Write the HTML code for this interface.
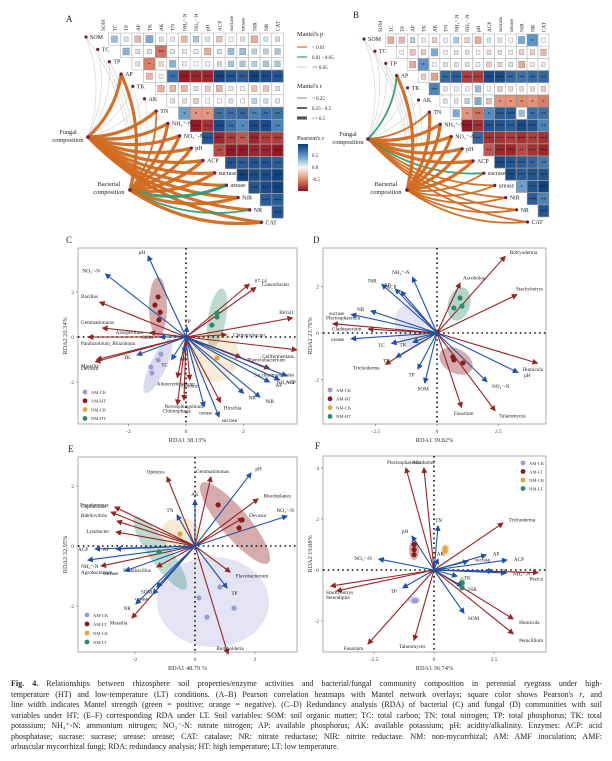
<!DOCTYPE html>
<html><head><meta charset="utf-8">
<style>
html,body{margin:0;padding:0;background:#fff;}
#wrap{position:relative;width:612px;height:761px;overflow:hidden;}
svg{position:absolute;left:0;top:0;}
#cap{position:absolute;left:11px;top:679px;width:591px;font-family:"Liberation Serif",serif;font-size:8px;line-height:10.5px;color:#222;}
#cap div{text-align:justify;text-align-last:justify;height:10.5px;overflow:hidden;}
#cap div.last{text-align-last:left;}
text{font-family:"Liberation Serif",serif;}
</style></head>
<body>
<div id="wrap">
<svg id="fig" width="612" height="761" viewBox="0 0 612 761" xmlns="http://www.w3.org/2000/svg">
<defs>
<marker id="ab" markerWidth="6" markerHeight="6" refX="5" refY="3" orient="auto" markerUnits="userSpaceOnUse"><path d="M0,0 L6,3 L0,6 z" fill="#1f4fa8"/></marker>
<marker id="ar" markerWidth="6" markerHeight="6" refX="5" refY="3" orient="auto" markerUnits="userSpaceOnUse"><path d="M0,0 L6,3 L0,6 z" fill="#962325"/></marker>
<linearGradient id="pg" x1="0" y1="0" x2="0" y2="1">
<stop offset="0" stop-color="#0b3a78"/><stop offset="0.25" stop-color="#5b95c8"/><stop offset="0.5" stop-color="#f7f7f7"/><stop offset="0.75" stop-color="#e08a6e"/><stop offset="1" stop-color="#8e0c1e"/></linearGradient>
</defs>
<g id="layer"></g>
</svg>
<div id="cap">
<div><b>Fig. 4.</b> Relationships between rhizosphere soil properties/enzyme activities and bacterial/fungal community composition in perennial ryegrass under high-</div>
<div>temperature (HT) and low-temperature (LT) conditions. (A–B) Pearson correlation heatmaps with Mantel network overlays; square color shows Pearson's <i>r</i>, and</div>
<div>line width indicates Mantel strength (green = positive; orange = negative). (C–D) Redundancy analysis (RDA) of bacterial (C) and fungal (D) communities with soil</div>
<div>variables under HT; (E–F) corresponding RDA under LT. Soil variables: SOM: soil organic matter; TC: total carbon; TN: total nitrogen; TP: total phosphorus; TK: total</div>
<div>potassium; NH₄⁺-N: ammonium nitrogen; NO₃⁻-N: nitrate nitrogen; AP: available phosphorus; AK: available potassium; pH: acidity/alkalinity. Enzymes: ACP: acid</div>
<div>phosphatase; sucrase: sucrase; urease: urease; CAT: catalase; NR: nitrate reductase; NIR: nitrite reductase. NM: non-mycorrhizal; AM: AMF inoculation; AMF:</div>
<div class="last">arbuscular mycorrhizal fungi; RDA: redundancy analysis; HT: high temperature; LT: low temperature.</div>
</div>
</div>
<script>
// ---------- Heatmap data ----------
const vars = ["SOM","TC","TP","AP","TK","AK","TN","NH₄⁺-N","NO₃⁻-N","pH","ACP","sucrase","urease","NiR","NR","CAT"];
const corrA = [
 [.3,.1,-.3,.4,.1,.05,-.3,.25,.1,-.25,0,.1,-.35,.1,.15],
 [.35,.1,.1,-.6,.05,.05,.05,-.35,.1,.3,.3,.2,.2,.25],
 [.1,-.55,-.15,.35,.05,0,0,.15,.25,.25,.2,.25,.25],
 [-.3,0,.7,-.95,-.9,-.9,.95,.85,.8,.95,.9,.85],
 [-.35,-.3,-.3,.1,-.2,-.3,.05,0,-.25,-.25,.1],
 [.1,.1,-.2,0,0,.1,0,.2,.15,.1],
 [.45,-.45,-.45,.7,.7,.75,.6,.7,.7],
 [-.95,-.85,.9,.7,.55,.9,.9,.6],
 [.85,-.9,-.8,-.7,-.9,-.8,-.8],
 [-.75,-.95,-.95,-.9,-.9,-.95],
 [.85,.8,.85,.85,.8],
 [.95,.9,.9,.95],
 [.85,.9,.95],
 [.8,.8],
 [.85]
];
const corrB = [
 [-.35,-.3,.2,.05,-.2,.05,.25,-.2,-.35,.1,.1,0,.4,.5,0],
 [0,-.25,-.2,.4,0,.1,.1,0,-.15,.1,.05,-.2,-.2,-.3],
 [-.35,.5,0,.1,.1,.1,0,-.2,-.15,.1,-.35,.05,.05],
 [-.2,-.4,.75,.8,-.8,-.8,.9,.9,.75,.7,.75,.75],
 [.6,-.1,.05,0,.3,0,-.2,-.15,-.15,-.15,-.2],
 [.1,.1,.2,.4,-.25,-.45,-.45,-.5,-.45,-.55],
 [.4,-.45,-.6,.55,.8,.8,.3,.7,.7],
 [-.95,-.85,.85,.85,.8,.9,.85,.6],
 [.75,-.85,-.85,-.8,-.85,-.8,-.85],
 [-.7,-.9,-.9,-.75,-.85,-.9],
 [.9,.85,.8,.75,.65],
 [.9,.8,.85,.85],
 [.45,.85,.95],
 [.8,.6],
 [.85]
];
const mantelA_fung_r = [.1,.1,.1,.6,.1,.1,.6,.6,.6,.6,.6,.6,.6,.6,.5,.5];
const mantelA_fung_p = [2,2,2,0,2,2,0,0,0,0,0,0,0,0,0,0];
const mantelA_bact_r = [.1,.1,.1,.6,.1,.1,.4,.6,.6,.6,.6,.6,.6,.6,.3,.6];
const mantelA_bact_p = [2,2,2,0,2,2,0,0,0,0,0,0,1,0,1,0];
const mantelB_fung_r = [.1,.1,.1,.3,.1,.1,.4,.6,.6,.6,.5,.3,.3,.3,.3,.3];
const mantelB_fung_p = [2,2,2,1,2,2,0,0,0,0,0,1,0,0,0,0];
const mantelB_bact_r = [.1,.1,.1,.5,.1,.1,.5,.6,.6,.6,.5,.4,.4,.4,.4,.4];
const mantelB_bact_p = [2,2,2,0,2,2,0,0,0,0,0,0,0,0,0,0];

// ---------- RDA data ----------
const cEnvNames = ["pH","NO₃⁻-N","TK","TC","AK","TP","SOM","NH₄⁺-N","ACP","AP","NR","NiR","urease","sucrase"];
const cEnvX = [-1.32,-2.8,-1.7,-0.5,-0.07,0.03,-0.9,3.5,3.25,2.9,2.0,2.57,0.63,1.15];
const cEnvY = [3.6,2.8,-0.8,-1.0,-0.7,0.45,0,-1.73,-1.9,-2.0,-2.5,-2.67,-3.1,-3.55];
const cSpNames = ["Bacillus","Gemmatimonas","Parahizobium_Rhizobium","Devosia","Massilia","Azospirillum","67-14","Conexibacter","Blrii41","Chthoniobacter","Cellfermentans","Phenylobacterium","Saccharimonadales","Hirschia","Chitinophaga","Novosphingobium","Opitutus","Altererythrobacter"];
const cSpX = [-3.0,-2.9,-3.4,-3.15,-3.1,-1.25,2.2,2.43,3.7,1.4,3.85,1.9,2.9,1.2,-0.3,-0.07,0.13,-0.3];
const cSpY = [1.55,0.4,0,-1.1,-1.0,0.2,2.35,2.2,0.85,0.1,-0.57,-0.9,-1.4,-2.9,-3.0,-2.8,-1.9,-1.8];
const cPtGroup = [1,1,1,1,3,3,3,0,0,0,0,2];
const cPtX = [-0.97,-1.08,-0.9,-0.94,1.08,0.9,1.08,-0.87,-0.97,-1.22,-1.18,1.08];
const cPtY = [1.78,1.42,1.1,0.76,1.07,0.53,0.89,-0.76,-1.02,-1.33,-1.6,-0.93];

const dEnvNames = ["NH₄⁺-N","NiR","AP","ACP","NR","sucrase","urease","TC","TK","TN","TP","SOM","NO₃⁻-N","pH"];
const dEnvX = [-1.0,-2.25,-1.7,-1.47,-2.7,-3.5,-3.5,-1.85,-0.98,-1.67,-0.78,-0.5,2.04,3.3];
const dEnvY = [2.4,2.1,1.9,1.8,0.95,0.8,-0.25,-0.45,-0.4,-1.05,-1.55,-2.15,-2.1,-1.7];
const dSpNames = ["Botryoderma","Ascobolus","Stachybotrys","Humicola","Talaromyces","Fusarium","Plectosphaerella","Cladosporium","Trichoderma"];
const dSpX = [2.78,0.94,3.26,4.1,2.37,1.0,-4.25,-2.8,-2.1];
const dSpY = [3.3,2.15,1.65,-1.3,-3.35,-3.2,0.4,0.17,-1.35];
const dPtGroup = [3,3,3,1,1,1];
const dPtX = [0.94,0.69,1.02,0.69,0.65,1.06];
const dPtY = [1.51,1.08,1.16,-1.16,-1.03,-1.29];

const eEnvNames = ["pH","NO₃⁻-N","AK","TN","ACP","AP","NH₄⁺-N","sucrase","SOM","NR","urease","TP"];
const eEnvX = [1.87,3.07,0,-0.6,-3.33,-2.63,-3.57,-2.33,-1.27,-1.97,-1.4,1.07];
const eEnvY = [2.43,1.0,1.53,1.03,-0.1,-0.1,-0.47,-0.83,-1.37,-1.93,-1.6,-1.4];
const eSpNames = ["Opitutus","Gemmatimonas","Rhodoplanes","Devosia","Pseudomonas","Cupriavidus","Bdellovibrio","Lysobacter","Agrobacterium","Paenibacillus","Massilia","Burkholderia","Flavobacterium"];
const eSpX = [-0.93,0.53,2.1,1.6,-2.67,-2.8,-2.6,-2.63,-3.13,-1.27,-2.1,1.1,1.17];
const eSpY = [2.3,2.3,1.57,0.93,1.3,1.13,0.83,0.47,-0.67,-0.7,-2.4,-3.6,-0.87];
const ePtGroup = [1,1,1,0,0,0,0,2,3];
const ePtX = [0.77,1.47,1.57,0.83,0.13,0.4,1.3,-0.5,-1.2];
const ePtY = [1.37,0.6,0.87,-1.37,-1.73,-2.37,-2.07,0.4,-0.2];

const fEnvNames = ["TN","pH","NO₃⁻-N","AK","AP","ACP","NR","NH₄⁺-N","TK","NiR","SOM","TP","sucrase"];
const fEnvX = [0.17,-0.92,-2.3,0.17,2.17,3.04,2.46,3.0,0.96,1.17,1.25,-1.3,1.42];
const fEnvY = [1.73,1.33,0.43,0.43,0.59,0.39,-0.04,-0.12,-0.24,-0.63,-1.69,-0.7,0.35];
const fSpNames = ["Plectosphaerella","Ascobolus","Trichoderma","Pezica","Stachybotrys","Serendipita","Fusarium","Talaromyces","Humicola","Penicillium"];
const fSpX = [-1.17,-0.42,2.87,4.33,-4.3,-4.05,-2.75,-0.83,3.3,3.3];
const fSpY = [4.0,4.0,1.84,-0.1,-0.63,-0.82,-2.9,-2.75,-1.92,-2.5];
const fPtGroup = [1,1,1,2,2,3,3,0,0];
const fPtX = [-0.83,-0.83,-0.83,0.46,0.46,1.17,1.17,-0.83,-0.75];
const fPtY = [1.0,0.8,0.6,0.85,0.75,-0.5,-0.7,-1.2,-1.2];

const groupColors = ["#9b9bd6","#8b1a1a","#e0a43c","#2e8b66"];

// ---------- helpers ----------
const NS = "http://www.w3.org/2000/svg";
const layer = document.getElementById("layer");
function mk(tag, attrs, parent){
  const e = document.createElementNS(NS, tag);
  for (const k in attrs) e.setAttribute(k, attrs[k]);
  (parent||layer).appendChild(e);
  return e;
}
function txt(x,y,s,size,opts,parent){
  const t = mk("text", Object.assign({x:x,y:y,"font-size":size,fill:"#222"}, opts||{}), parent);
  t.textContent = s;
  return t;
}
function lerp(a,b,t){return a+(b-a)*t;}
function hex2(c){return [parseInt(c.slice(1,3),16),parseInt(c.slice(3,5),16),parseInt(c.slice(5,7),16)];}
function corrColor(r){
  const stops = [[-1,"#8e0c1e"],[-0.5,"#e08a6e"],[0,"#f7f7f7"],[0.5,"#5b95c8"],[1,"#0b3a78"]];
  for (let i=0;i<stops.length-1;i++){
    if (r<=stops[i+1][0]){
      const t=(r-stops[i][0])/(stops[i+1][0]-stops[i][0]);
      const a=hex2(stops[i][1]), b=hex2(stops[i+1][1]);
      return "rgb("+Math.round(lerp(a[0],b[0],t))+","+Math.round(lerp(a[1],b[1],t))+","+Math.round(lerp(a[2],b[2],t))+")";
    }
  }
  return stops[4][1];
}

// ---------- Heatmap panel ----------
function heatPanel(cfg){
  const g = mk("g",{});
  
  
  const cw=cfg.cw, ch=cfg.ch;
  for (let k=0;k<16;k++){
    const cx = cfg.x0 + k*cw + cw/2;
    const t = txt(0,0,vars[k],5.2,{transform:"translate("+(cx+2)+","+(cfg.y0-2)+") rotate(-90)"},g);
    
    
  }
  function link(node, idx, r, p){
    const dx = cfg.dx0 + idx*cfg.dstep, dy = cfg.dy0 + idx*ch;
    const col = p===0 ? "#d2691e" : (p===1 ? "#2a9d72" : "#d4d4d4");
    const w = r<0.25 ? 0.7 : (r<0.5 ? 1.8 : 3.2);
    const mx=(node[0]+dx)/2, my=(node[1]+dy)/2;
    const vx=dx-node[0], vy=dy-node[1];
    const cx = mx - vy*0.18, cy = my + vx*0.18;
    const pth = mk("path",{d:"M"+node[0]+","+node[1]+" Q"+cx+","+cy+" "+dx+","+dy,fill:"none",stroke:col,"stroke-width":w,"stroke-linecap":"round",opacity:0.95},g);
    
    
  }
  for (let i=0;i<16;i++) if (cfg.fp[i]===2) link(cfg.fn,i,cfg.fr[i],cfg.fp[i]);
  for (let i=0;i<16;i++) if (cfg.bp[i]===2) link(cfg.bn,i,cfg.br[i],cfg.bp[i]);
  for (let i=0;i<16;i++) if (cfg.fp[i]!==2) link(cfg.fn,i,cfg.fr[i],cfg.fp[i]);
  for (let i=0;i<16;i++) if (cfg.bp[i]!==2) link(cfg.bn,i,cfg.br[i],cfg.bp[i]);
  for (let r=0;r<15;r++){
    for (let j=0;j<cfg.data[r].length;j++){
      const k=r+1+j, v=cfg.data[r][j];
      const x=cfg.x0+k*cw, y=cfg.y0+r*ch;
      const bg = mk("rect",{x:x,y:y,width:cw,height:ch,fill:"#fff",stroke:"#aaa","stroke-width":0.5},g);
      
      
      const a=Math.abs(v);
      const s = a>=0.45 ? 0.96 : Math.max(0.35, Math.sqrt(a)*0.95);
      const sq = mk("rect",{x:x+cw*(1-s)/2,y:y+ch*(1-s)/2,width:cw*s,height:ch*s,fill:corrColor(v),stroke:"#888","stroke-width":0.4},g);
      
      
      const st = a>=0.8?"***":(a>=0.6?"**":(a>=0.45?"*":""));
      if (st){ const t=txt(x+cw/2,y+ch/2+2.2,st,5,{"text-anchor":"middle",fill:"#1a1a1a"},g);
        
         }
    }
  }
  for (let i=0;i<16;i++){
    const dx = cfg.dx0 + i*cfg.dstep, dy = cfg.dy0 + i*ch;
    const c = mk("circle",{cx:dx,cy:dy,r:1.6,fill:"#6b1f4a"},g);
    
    
    const t = txt(dx+4,dy+2,vars[i],6,{},g);
    
    
  }
  for (const nd of [[cfg.fn,"Fungal","composition"],[cfg.bn,"Bacterial","composition"]]){
    const c = mk("circle",{cx:nd[0][0],cy:nd[0][1],r:1.8,fill:"#6b1f4a"},g);
    
    
    const isF = nd[1]==="Fungal";
    const lx = isF ? nd[0][0]-2 : nd[0][0]-3, ly = isF ? nd[0][1]-3 : nd[0][1]-4;
    const t1 = txt(lx-18,ly,nd[1],6.3,{"text-anchor":"middle"},g);
    
    
    const t2 = txt(lx-18,ly+8,nd[2],6.3,{"text-anchor":"middle"},g);
    
    
  }
}
heatPanel({name:"panel-a-heatmap",x0:97,y0:33,cw:11.65,ch:12.35,data:corrA,dx0:86,dy0:37,dstep:11.7,
  fn:[88,137],bn:[130,190],fr:mantelA_fung_r,fp:mantelA_fung_p,br:mantelA_bact_r,bp:mantelA_bact_p});
heatPanel({name:"panel-b-heatmap",x0:374.5,y0:34,cw:10.9,ch:12.2,data:corrB,dx0:364,dy0:39,dstep:10.9,
  fn:[368,139],bn:[407,190],fr:mantelB_fung_r,fp:mantelB_fung_p,br:mantelB_bact_r,bp:mantelB_bact_p});

(function(){
  const g = mk("g",{});
  
  
  txt(297,36,"Mantel's p",6.3,{},g);
  const ps=[["#d2691e","< 0.01"],["#2a9d72","0.01 - 0.05"],["#d4d4d4",">= 0.05"]];
  ps.forEach((p,i)=>{ mk("line",{x1:297,x2:307,y1:47+i*10,y2:47+i*10,stroke:p[0],"stroke-width":1.2},g); txt(312,49+i*10,p[1],5,{},g);});
  txt(297,88,"Mantel's r",6.3,{},g);
  const rs=[[0.7,"< 0.25"],[1.8,"0.25 - 0.5"],[3.2,">= 0.5"]];
  rs.forEach((p,i)=>{ mk("line",{x1:297,x2:307,y1:98+i*10,y2:98+i*10,stroke:"#555","stroke-width":p[0]},g); txt(312,100+i*10,p[1],5,{},g);});
  txt(297,140,"Pearson's r",6.3,{},g);
  mk("rect",{x:298,y:144,width:10,height:47,fill:"url(#pg)"},g);
  txt(312,157,"0.5",5,{},g); txt(312,169,"0.0",5,{},g); txt(312,181,"-0.5",5,{},g);
})();

// ---------- RDA panel ----------
function rda(cfg){
  const g = mk("g",{});
  
  
  const X = v => cfg.ox + v*cfg.sx;
  const Y = v => cfg.oy - v*cfg.sy;
  const b = cfg.box;
  const fr = mk("rect",{x:b[0],y:b[1],width:b[2]-b[0],height:b[3]-b[1],fill:"#fff",stroke:"#999","stroke-width":0.8},g);
  
  
  cfg.ell.forEach(e=>{
    const el = mk("ellipse",{cx:e[0],cy:e[1],rx:e[2],ry:e[3],fill:groupColors[e[5]],opacity:(e[6]||0.35)*0.8,transform:"rotate("+e[4]+" "+e[0]+" "+e[1]+")"},g);
    
    
  });
  mk("line",{x1:b[0],x2:b[2],y1:Y(0),y2:Y(0),stroke:"#111","stroke-width":1.6,"stroke-dasharray":"1.6 3.2"},g);
  mk("line",{x1:X(0),x2:X(0),y1:b[1],y2:b[3],stroke:"#111","stroke-width":1.6,"stroke-dasharray":"1.6 3.2"},g);
  function arrows(names,xs,ys,color,marker,nm){
    for (let i=0;i<names.length;i++){
      const x=X(xs[i]), y=Y(ys[i]);
      const ln = mk("line",{x1:X(0),y1:Y(0),x2:x,y2:y,stroke:color,"stroke-width":1.1,"marker-end":"url(#"+marker+")"},g);
      
      
      const dx=x-X(0), dy=y-Y(0), L=Math.hypot(dx,dy)||1;
      let lx=x+dx/L*7, ly=y+dy/L*6+2;
      let anc = Math.abs(dx/L)<0.35 ? "middle" : (dx>0?"start":"end");
      const w = names[i].length*cfg.fs*0.5;
      let left = anc==="start"?lx:(anc==="end"?lx-w:lx-w/2);
      if (left < b[0]+2 || left+w > b[2]-2){
        // move label inside the frame, above/below the tip
        if (left < b[0]+2){ anc="start"; lx=b[0]+3; } else { anc="end"; lx=b[2]-3; }
        ly = dy>=0 ? y+8 : y-4;
      }
      if (ly < b[1]+6) ly = b[1]+6;
      if (ly > b[3]-2) ly = b[3]-2;
      const t = txt(lx,ly,names[i],cfg.fs,{"text-anchor":anc,fill:"#222","font-family":cfg.sans?"Liberation Sans, sans-serif":"Liberation Serif, serif"},g);
      
      
    }
  }
  arrows(cfg.spN,cfg.spX,cfg.spY,"#962325","ar","species-arrow");
  arrows(cfg.envN,cfg.envX,cfg.envY,"#1f4fa8","ab","variable-arrow");
  for (let i=0;i<cfg.ptG.length;i++){
    const c = mk("circle",{cx:X(cfg.ptX[i]),cy:Y(cfg.ptY[i]),r:2.6,fill:groupColors[cfg.ptG[i]]},g);
    
    
  }
  cfg.xt.forEach(v=>{ mk("line",{x1:X(v),x2:X(v),y1:b[3],y2:b[3]+2,stroke:"#666","stroke-width":0.6},g);
    const t=txt(X(v),b[3]+9,String(v),5.5,{"text-anchor":"middle",fill:"#444"},g);
     });
  cfg.yt.forEach(v=>{ mk("line",{x1:b[0]-2,x2:b[0],y1:Y(v),y2:Y(v),stroke:"#666","stroke-width":0.6},g);
    const t=txt(b[0]-4,Y(v)+2,String(v),5.5,{"text-anchor":"end",fill:"#444"},g);
     });
  const xl = txt((b[0]+b[2])/2,b[3]+18,cfg.xl,6.3,{"text-anchor":"middle",fill:"#333"},g);
   
  const yl = txt(0,0,cfg.yl,6.3,{"text-anchor":"middle",fill:"#333",transform:"translate("+(b[0]-11)+","+((b[1]+b[3])/2)+") rotate(-90)"},g);
   
  cfg.leg.labels.forEach((s,i)=>{
    const ly=cfg.leg.y+i*cfg.leg.dy;
    const c=mk("circle",{cx:cfg.leg.x,cy:ly,r:2.4,fill:groupColors[i]},g);
     
    const t=txt(cfg.leg.x+6,ly+1.8,s,4.6,{fill:"#333"},g);
     
  });
  const L=txt(cfg.letter[0],cfg.letter[1],cfg.letter[2],9,{fill:"#222"},g);
   
}
rda({name:"panel-c-rda",box:[78,248,297,424],ox:186,oy:337,sx:28.75,sy:22.5,fs:5.2,sans:true,
  envN:cEnvNames,envX:cEnvX,envY:cEnvY,spN:cSpNames,spX:cSpX,spY:cSpY,ptG:cPtGroup,ptX:cPtX,ptY:cPtY,
  ell:[[158,307,9,30,0,1,0.45],[217,318,9,30,10,3,0.4],[158,366,8,30,25,0,0.45],[215,356,24,26,0,2,0.25]],
  xt:[-2,0,2],yt:[2,0,-2],xl:"RDA1 38.13%",yl:"RDA2 20.34%",leg:{x:85,y:392,dy:8.8,labels:["AM-CK","AM-HT","NM-CK","NM-HT"]},letter:[66,243,"C"]});
rda({name:"panel-d-rda",box:[323,248,546,424],ox:437,oy:333,sx:24.5,sy:23.2,fs:5.2,sans:false,
  envN:dEnvNames,envX:dEnvX,envY:dEnvY,spN:dSpNames,spX:dSpX,spY:dSpY,ptG:dPtGroup,ptX:dPtX,ptY:dPtY,
  ell:[[410,326,15,22,-10,0,0.35],[459,304,11,17,15,3,0.45],[456,361,18,12,30,1,0.45],[423,337,9,6,0,2,0.35]],
  xt:[-2.5,0,2.5],yt:[2,0,-2],xl:"RDA1 39.82%",yl:"RDA2 23.76%",leg:{x:330,y:390,dy:8.8,labels:["AM-CK","AM-HT","NM-CK","NM-HT"]},letter:[313,243,"D"]});
rda({name:"panel-e-rda",box:[78,457,297,652],ox:195,oy:546,sx:30,sy:30,fs:5.2,sans:false,
  envN:eEnvNames,envX:eEnvX,envY:eEnvY,spN:eSpNames,spX:eSpX,spY:eSpY,ptG:ePtGroup,ptX:ePtX,ptY:ePtY,
  ell:[[235,523,14,52,-40,1,0.45],[213,602,56,45,0,0,0.35],[160,553,11,44,-35,3,0.4],[180,533,20,15,0,2,0.3]],
  xt:[-2,0,2],yt:[2,0,-2],xl:"RDA1 48.79 %",yl:"RDA2 32.95%",leg:{x:87,y:615,dy:9,labels:["AM-CK","AM-LT","NM-CK","NM-LT"]},letter:[68,452,"E"]});
rda({name:"panel-f-rda",box:[323,456,546,652],ox:434,oy:570,sx:24,sy:25.5,fs:5.2,sans:true,
  envN:fEnvNames,envX:fEnvX,envY:fEnvY,spN:fSpNames,spX:fSpX,spY:fSpY,ptG:fPtGroup,ptX:fPtX,ptY:fPtY,
  ell:[[414,550,5,10,0,1,0.45],[445,550,4,6,20,2,0.5],[462,583,3,6,0,3,0.5],[414,600,6,4,0,0,0.5]],
  xt:[-2.5,0,2.5],yt:[4,2,0,-2],xl:"RDA1 36.74%",yl:"RDA2 19.88%",leg:{x:523,y:463,dy:8.5,labels:["AM-CK","AM-LT","NM-CK","NM-LT"]},letter:[315,449,"F"]});

const la = txt(66,22,"A",9,{});  
const lb = txt(353,18,"B",9,{});  
</script>
</body></html>
